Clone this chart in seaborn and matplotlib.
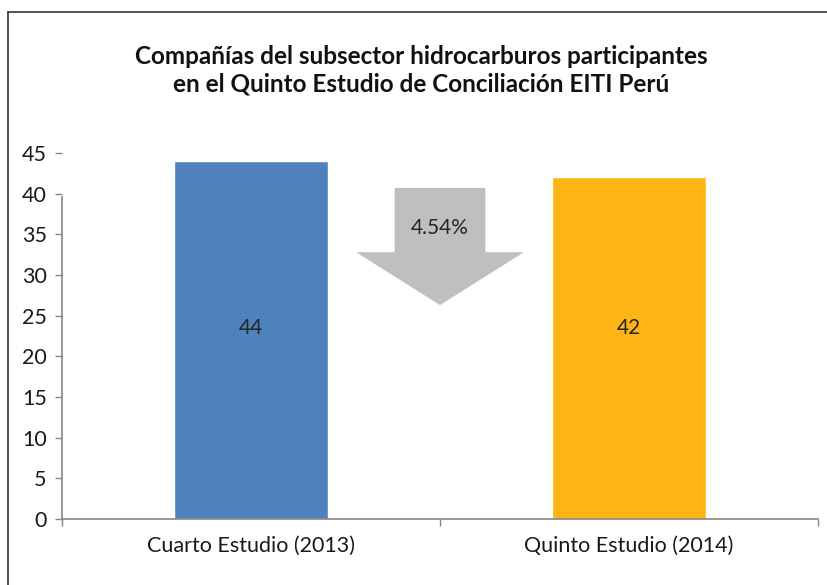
import numpy as np
import pandas as pd
import matplotlib
matplotlib.use("Agg")
import matplotlib.pyplot as plt
import seaborn as sns
from matplotlib.patches import Polygon
from matplotlib.lines import Line2D

# Data
categories = ["Cuarto Estudio (2013)", "Quinto Estudio (2014)"]
values = [44, 42]
value_labels = ["44", "42"]
change_label = "4.54%"
bar_colors = ["#4F81BD", "#FDB515"]
title = ("Compañías del subsector hidrocarburos participantes\n"
         "en el Quinto Estudio de Conciliación EITI Perú")

df = pd.DataFrame({"estudio": categories, "companias": values})

sns.set_style("white")
plt.rcParams['font.family'] = ['Lato', 'DejaVu Sans']

fig = plt.figure(figsize=(8.27, 5.85), dpi=100)
ax = fig.add_axes([62 / 827, 1 - 519 / 585, (818 - 62) / 827, (519 - 153) / 585])

sns.barplot(data=df, x="estudio", y="companias", hue="estudio",
            palette=bar_colors, width=0.405, legend=False, ax=ax,
            saturation=1)

ax.set_xlim(-0.5, 1.5)
ax.set_ylim(0, 45)
ax.set_yticks(np.arange(0, 46, 5))
ax.set_xlabel("")
ax.set_ylabel("")

axis_gray = "#868686"
for s in ["top", "right"]:
    ax.spines[s].set_visible(False)
for s in ["left", "bottom"]:
    ax.spines[s].set_color(axis_gray)
    ax.spines[s].set_linewidth(1.2)
ax.spines["left"].set_bounds(0, 39.6)

ax.tick_params(axis="y", which="major", direction="out", length=5, width=1,
               color=axis_gray, labelsize=15.5, labelcolor="#1a1a1a", pad=6, left=True)
ax.tick_params(axis="x", which="major", length=0, labelsize=15.5,
               labelcolor="#1a1a1a", pad=12)
ax.set_xticks([-0.5, 0.5, 1.5], minor=True)
ax.tick_params(axis="x", which="minor", direction="out", length=5, width=1,
               color=axis_gray, bottom=True)

# value labels inside the bars
for i, lab in enumerate(value_labels):
    ax.text(i, 23.5, lab, ha="center", va="center", fontsize=15, color="#262626")

# down arrow between the bars
cx = 0.5
shaft_hw, head_hw = 0.12, 0.222
y_top, y_base, y_tip = 40.7, 32.8, 26.3
arrow = Polygon([(cx - shaft_hw, y_top), (cx + shaft_hw, y_top),
                 (cx + shaft_hw, y_base), (cx + head_hw, y_base),
                 (cx, y_tip), (cx - head_hw, y_base),
                 (cx - shaft_hw, y_base)],
                closed=True, facecolor="#BFBFC1", edgecolor="none", zorder=3)
ax.add_patch(arrow)
ax.text(cx, 35.8, change_label, ha="center", va="center", fontsize=15,
        color="#262626", zorder=4)

fig.text(0.509, 1 - 70 / 585, title, ha="center", va="center",
         fontsize=17.5, fontweight="bold", color="#111111", linespacing=1.25)

# outer chart frame (left and top edges visible)
fig.add_artist(Line2D([8 / 827, 8 / 827], [0, 1 - 12 / 585],
                      transform=fig.transFigure, color="#333333", lw=1.2))
fig.add_artist(Line2D([8 / 827, 1], [1 - 12 / 585, 1 - 12 / 585],
                      transform=fig.transFigure, color="#333333", lw=1.2))

fig.savefig("out.png", dpi=100)
